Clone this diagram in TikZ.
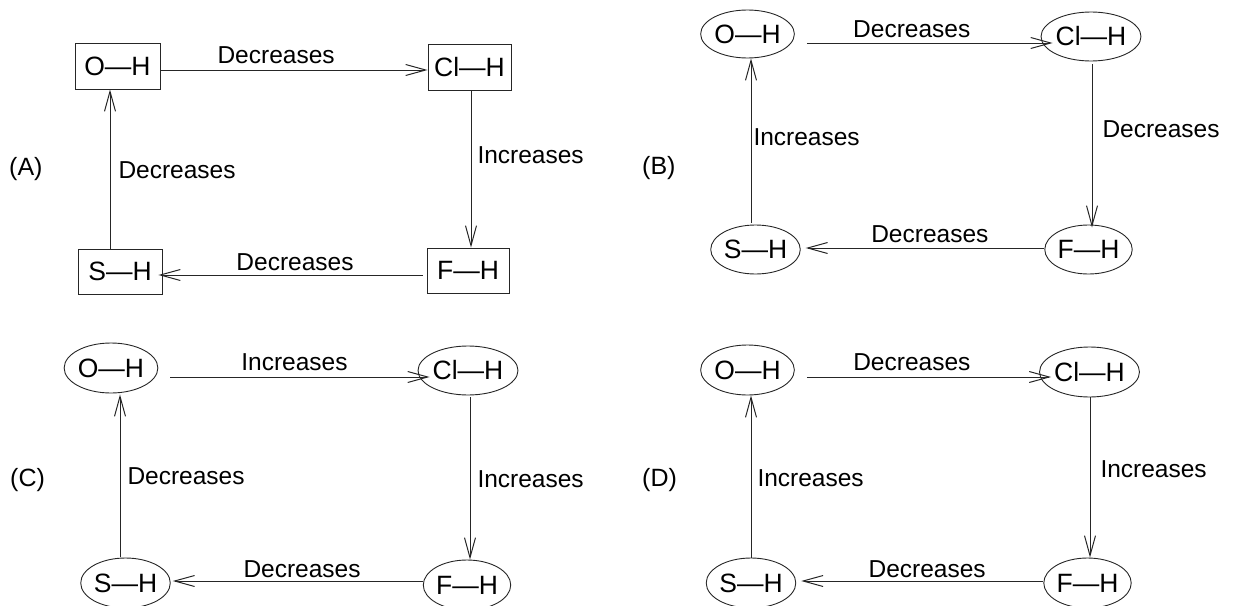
\documentclass[tikz,border=0pt]{standalone}
\usepackage{fontspec}
\setmainfont{Liberation Sans}
\usetikzlibrary{arrows.meta,shapes.geometric}
\begin{document}
\begin{tikzpicture}[x=1pt,y=-1pt,
  every node/.style={font=\fontsize{24.5}{28}\selectfont, text=black},
  box/.style={draw=black!85, line width=0.9pt, rectangle, inner sep=0pt, font=\fontsize{26.5}{30}\selectfont},
  ell/.style={draw=black!85, line width=0.9pt, ellipse, inner sep=0pt, font=\fontsize{26.5}{30}\selectfont},
  arr/.style={draw=black!85, line width=1pt, -{Straight Barb[length=20pt,width=11pt,line width=1pt]}},
  lab/.style={inner sep=0pt},
  plab/.style={inner sep=0pt, anchor=west, font=\fontsize{25}{28}\selectfont}]
\useasboundingbox (0,0) rectangle (1255,605);

% ---------- Panel A ----------
\node[plab] (la) at (9,169) {(A)};
\node[box, minimum width=85pt, minimum height=46pt] (aoh) at (117.5,66) {O—H};
\node[box, minimum width=83pt, minimum height=46pt] (ach) at (469.5,67) {Cl—H};
\node[box, minimum width=84pt, minimum height=45pt] (ash) at (120,271.5) {S—H};
\node[box, minimum width=82pt, minimum height=45pt] (afh) at (468,270.5) {F—H};
\draw[arr] ([shift={(0,4)}]aoh.east) -- ([shift={(0,4)}]aoh.east -| ach.west)
  node[lab, pos=0.433, anchor=base, yshift=7pt] {Decreases};
\draw[arr] ([shift={(1.5,0)}]ach.south) -- ([shift={(1.5,0)}]ach.south |- afh.north)
  node[lab, pos=0.41, anchor=west, xshift=6pt] {Increases};
\draw[arr] ([shift={(-4,4.5)}]afh.west) -- ([shift={(-4,4.5)}]afh.west -| ash.east)
  node[lab, pos=0.483, anchor=base, yshift=5pt] {Decreases};
\draw[arr] ([shift={(-10,0)}]ash.north) -- ([shift={(-10,0)}]ash.north |- aoh.south)
  node[lab, pos=0.49, anchor=west, xshift=8pt] {Decreases};

% ---------- Panel B ----------
\node[plab] (lb) at (642,168) {(B)};
\node[ell, minimum width=79pt, minimum height=48pt] (boh) at (747.5,34) {O—H};
\node[ell, minimum width=78pt, minimum height=49pt] (bch) at (1091,36.5) {Cl—H};
\node[ell, minimum width=77pt, minimum height=49pt] (bsh) at (755.5,249.5) {S—H};
\node[ell, minimum width=77pt, minimum height=49pt] (bfh) at (1088.5,249.5) {F—H};
\draw[arr] ([shift={(12,9)}]boh.east) -- ([shift={(12,9)}]boh.east -| bch.west)
  node[lab, pos=0.427, anchor=base, yshift=6pt] {Decreases};
\draw[arr] ([shift={(1,3)}]bch.south) -- ([shift={(1,3)}]bch.south |- bfh.north)
  node[lab, pos=0.4, anchor=west, xshift=10pt] {Decreases};
\draw[arr, shorten >=5pt] ([shift={(0,-1.5)}]bfh.west) -- ([shift={(0,-1.5)}]bfh.west -| bsh.east)
  node[lab, pos=0.47, anchor=base, yshift=6pt] {Decreases};
\draw[arr, shorten >=2pt] ([shift={(-4.5,-2)}]bsh.north) -- ([shift={(-4.5,-2)}]bsh.north |- boh.south)
  node[lab, pos=0.515, anchor=west, xshift=2pt] {Increases};

% ---------- Panel C ----------
\node[plab] (lc) at (10,480) {(C)};
\node[ell, minimum width=92pt, minimum height=50pt] (coh) at (111,368) {O—H};
\node[ell, minimum width=80pt, minimum height=49pt] (cch) at (468,370.5) {Cl—H};
\node[ell, minimum width=81pt, minimum height=50pt] (csh) at (125.5,583) {S—H};
\node[ell, minimum width=80pt, minimum height=50pt] (cfh) at (467,585) {F—H};
\draw[arr] ([shift={(12,9)}]coh.east) -- ([shift={(12,9)}]coh.east -| cch.west)
  node[lab, pos=0.479, anchor=base, yshift=7pt] {Increases};
\draw[arr, shorten >=2pt] ([shift={(2,2)}]cch.south) -- ([shift={(2,2)}]cch.south |- cfh.north)
  node[lab, pos=0.5, anchor=west, xshift=7pt] {Increases};
\draw[arr, shorten >=2pt] ([shift={(0,-4)}]cfh.west) -- ([shift={(0,-4)}]cfh.west -| csh.east)
  node[lab, pos=0.479, anchor=base, yshift=4pt] {Decreases};
\draw[arr, shorten >=2pt] ([shift={(-5.5,-1)}]csh.north) -- ([shift={(-5.5,-1)}]csh.north |- coh.south)
  node[lab, pos=0.49, anchor=west, xshift=7pt] {Decreases};

% ---------- Panel D ----------
\node[plab] (ld) at (642,480) {(D)};
\node[ell, minimum width=79pt, minimum height=50pt] (doh) at (747.5,370) {O—H};
\node[ell, minimum width=77pt, minimum height=50pt] (dch) at (1089.5,372) {Cl—H};
\node[ell, minimum width=86pt, minimum height=50pt] (dsh) at (751,583) {S—H};
\node[ell, minimum width=79pt, minimum height=50pt] (dfh) at (1087.5,583) {F—H};
\draw[arr] ([shift={(12,7)}]doh.east) -- ([shift={(12,7)}]doh.east -| dch.west)
  node[lab, pos=0.43, anchor=base, yshift=7pt] {Decreases};
\draw[arr] ([shift={(0.5,0)}]dch.south) -- ([shift={(0.5,0)}]dch.south |- dfh.north)
  node[lab, pos=0.45, anchor=west, xshift=10pt] {Increases};
\draw[arr, shorten >=5pt] ([shift={(0,-2)}]dfh.west) -- ([shift={(0,-2)}]dfh.west -| dsh.east)
  node[lab, pos=0.47, anchor=base, yshift=4pt] {Decreases};
\draw[arr] (dsh.north) -- (dsh.north |- doh.south)
  node[lab, pos=0.49, anchor=west, xshift=6pt] {Increases};
\end{tikzpicture}
\end{document}
